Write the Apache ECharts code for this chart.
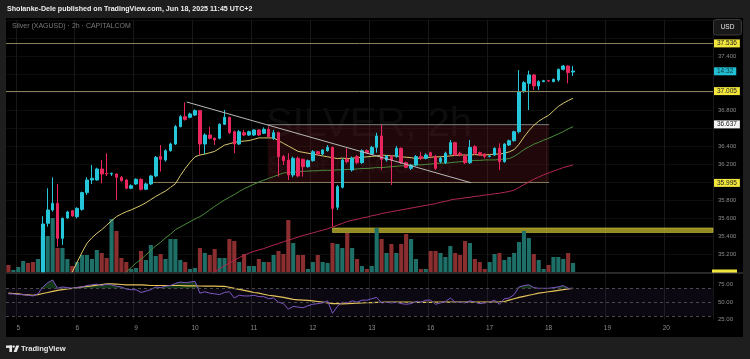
<!DOCTYPE html>
<html><head><meta charset="utf-8">
<script src="https://cdn.jsdelivr.net/npm/echarts@6/dist/echarts.min.js"></script>
<style>html,body{margin:0;padding:0;background:#1e1e1e}#c{width:750px;height:359px}</style>
</head><body><div id="c"></div>
<script>
// ---- x axis: 2h bars, day-start slots and their labels
const totalSlots = 144;
const dayStartIndex = [2, 14, 26, 38, 50, 62, 74, 86, 98, 110, 122, 134];
const dayLabels = ['5', '6', '9', '10', '11', '12', '13', '16', '17', '18', '19', '20'];

// ---- candles [open, close, low, high]
const candles = [
[34.80,34.72,34.68,34.86],[34.72,34.75,34.70,34.79],[34.75,34.78,34.72,34.82],[34.78,34.86,34.76,34.90],
[34.86,34.80,34.77,34.89],[34.80,34.74,34.70,34.83],[34.74,34.90,34.72,34.94],[35.0,35.533,35.0,35.62],
[35.541,35.689,35.504,35.930],[35.689,35.763,35.670,36.052],[35.763,35.374,35.282,35.978],[35.374,35.596,35.300,35.604],
[35.600,35.667,35.590,35.681],[35.681,35.622,35.615,35.689],[35.615,35.707,35.596,35.719],[35.696,35.882,35.681,35.893],
[35.882,36.022,35.856,36.052],[36.022,36.041,35.978,36.189],[36.022,36.144,36.015,36.159],[36.144,36.089,35.985,36.244],
[36.096,36.089,36.067,36.319],[36.089,36.096,36.067,36.105],[36.089,36.052,35.800,36.096],[36.052,36.015,36.004,36.067],
[36.022,35.930,35.919,36.030],[35.930,35.959,35.919,35.974],[35.978,36.030,35.967,36.041],[36.030,35.919,35.904,36.041],
[35.919,35.978,35.911,35.993],[35.978,36.067,35.967,36.078],[36.067,36.274,36.052,36.289],[36.282,36.252,36.115,36.411],
[36.244,36.348,36.226,36.363],[36.348,36.422,36.337,36.437],[36.422,36.615,36.411,36.633],[36.615,36.726,36.607,36.744],
[36.726,36.696,36.682,36.885],[36.719,36.756,36.707,36.770],[36.744,36.793,36.733,36.807],[36.793,36.422,36.300,36.800],
[36.422,36.522,36.311,36.541],[36.522,36.485,36.474,36.615],[36.485,36.467,36.411,36.496],[36.485,36.641,36.474,36.652],
[36.641,36.719,36.633,36.800],[36.719,36.548,36.533,36.726],[36.559,36.422,36.319,36.570],[36.422,36.559,36.411,36.578],
[36.548,36.522,36.511,36.578],[36.522,36.559,36.511,36.570],[36.522,36.578,36.511,36.585],[36.578,36.522,36.511,36.585],
[36.541,36.585,36.533,36.607],[36.585,36.504,36.496,36.615],[36.485,36.548,36.467,36.578],[36.548,36.282,36.060,36.559],
[36.282,36.237,36.189,36.300],[36.244,36.078,36.022,36.319],[36.078,36.263,36.052,36.282],[36.263,36.067,36.052,36.282],
[36.252,36.170,36.060,36.260],[36.170,36.237,36.160,36.250],[36.237,36.337,36.226,36.356],[36.337,36.311,36.300,36.348],
[36.311,36.356,36.300,36.363],[36.348,36.385,36.337,36.411],[36.385,35.707,35.504,36.393],[35.719,35.948,35.689,35.967],
[35.941,36.244,35.930,36.263],[36.252,36.226,36.207,36.374],[36.133,36.263,36.115,36.282],[36.282,36.215,36.200,36.300],
[36.215,36.348,36.200,36.363],[36.348,36.326,36.311,36.363],[36.311,36.385,36.300,36.400],[36.385,36.511,36.326,36.548],
[36.511,36.252,36.133,36.633],[36.244,36.289,36.226,36.300],[36.282,36.244,35.967,36.300],[36.282,36.374,36.270,36.400],
[36.374,36.215,36.200,36.385],[36.215,36.163,36.152,36.226],[36.152,36.189,36.133,36.200],[36.189,36.282,36.178,36.300],
[36.282,36.263,36.244,36.337],[36.263,36.300,36.252,36.319],[36.326,36.289,36.274,36.337],[36.282,36.152,36.133,36.300],
[36.226,36.263,36.207,36.282],[36.215,36.319,36.200,36.337],[36.311,36.437,36.300,36.467],[36.437,36.300,36.289,36.448],
[36.319,36.300,36.282,36.337],[36.289,36.215,36.200,36.311],[36.215,36.385,36.200,36.467],[36.393,36.319,36.300,36.411],
[36.326,36.300,36.289,36.337],[36.311,36.282,36.263,36.319],[36.282,36.289,36.274,36.300],[36.300,36.374,36.289,36.385],
[36.374,36.226,36.133,36.430],[36.226,36.422,36.215,36.430],[36.411,36.459,36.400,36.470],[36.459,36.559,36.450,36.570],
[36.559,37.004,36.540,37.244],[37.004,37.104,36.990,37.120],[37.096,37.189,36.800,37.237],[37.189,37.067,37.022,37.200],
[37.067,37.115,37.022,37.130],[37.115,37.126,37.110,37.135],[37.126,37.122,37.110,37.135],[37.115,37.141,37.110,37.150],
[37.133,37.252,37.115,37.260],[37.252,37.289,37.240,37.300],[37.289,37.215,37.096,37.295],[37.222,37.233,37.178,37.289]
];

// ---- volume (relative units)
const volume = [7,2,5,11,9,10,13,36,36,54,24,24,13,6,10,17,17,13,22,19,14,53,41,14,10,3,4,21,12,27,16,18,13,33,33,12,10,3,4,24,
19,17,23,14,14,33,31,10,18,6,6,13,10,10,17,21,18,52,29,17,17,3,10,17,10,9,29,28,24,39,24,13,6,3,6,44,33,19,28,19,
28,38,33,13,3,3,21,21,19,15,26,19,17,31,29,13,10,3,10,18,19,12,15,19,30,41,34,18,12,3,7,15,15,13,19,9];

// ---- moving averages on price
const maFast = [null,null,null,null,null,null,null,null,null,null,null,null,34.93,35.0,35.11,35.22,35.32,35.38,35.43,35.47,
35.52,35.57,35.615,35.645,35.67,35.69,35.715,35.74,35.77,35.805,35.84,35.87,35.90,35.94,35.98,36.07,36.15,36.22,36.28,36.30,
36.31,36.325,36.34,36.375,36.41,36.425,36.44,36.45,36.455,36.46,36.475,36.49,36.49,36.49,36.49,36.46,36.43,36.40,36.37,36.34,
36.33,36.32,36.31,36.30,36.29,36.28,36.27,36.26,36.265,36.26,36.265,36.27,36.275,36.28,36.285,36.29,36.30,36.295,36.29,36.29,
36.28,36.275,36.27,36.26,36.265,36.27,36.275,36.28,36.28,36.285,36.29,36.295,36.30,36.30,36.30,36.305,36.30,36.30,36.305,36.31,
36.31,36.32,36.335,36.36,36.42,36.50,36.57,36.63,36.675,36.71,36.74,36.79,36.84,36.875,36.905,36.93];
const maMid = [null,null,null,null,null,null,null,null,null,null,null,null,null,null,null,null,null,null,null,null,
null,null,null,34.95,35.0,35.05,35.10,35.14,35.19,35.24,35.29,35.33,35.38,35.42,35.47,35.50,35.53,35.56,35.59,35.615,
35.65,35.69,35.73,35.765,35.80,35.83,35.86,35.895,35.925,35.95,35.975,36.0,36.02,36.04,36.06,36.08,36.10,36.105,36.11,36.115,
36.12,36.12,36.125,36.125,36.13,36.13,36.13,36.135,36.135,36.14,36.14,36.145,36.15,36.15,36.155,36.16,36.16,36.165,36.17,36.175,
36.18,36.18,36.185,36.19,36.19,36.195,36.20,36.205,36.21,36.21,36.215,36.22,36.225,36.23,36.235,36.24,36.24,36.245,36.245,36.245,
36.25,36.255,36.26,36.285,36.32,36.36,36.39,36.42,36.44,36.465,36.485,36.51,36.535,36.56,36.59,36.615];
const maSlow = [null,null,null,null,null,null,null,null,null,null,null,null,null,null,null,null,null,null,null,null,
null,null,null,null,null,null,null,null,null,null,null,null,null,null,null,null,null,null,null,null,
null,34.97,35.0,35.035,35.07,35.10,35.13,35.16,35.185,35.21,35.23,35.245,35.26,35.28,35.30,35.315,35.335,35.355,35.37,35.39,
35.405,35.42,35.435,35.45,35.465,35.48,35.50,35.52,35.54,35.56,35.575,35.585,35.60,35.61,35.625,35.635,35.65,35.66,35.67,35.68,
35.69,35.70,35.71,35.72,35.73,35.74,35.75,35.76,35.775,35.785,35.80,35.81,35.815,35.825,35.83,35.84,35.845,35.855,35.86,35.87,
35.875,35.885,35.895,35.91,35.94,35.97,36.0,36.03,36.055,36.08,36.10,36.12,36.14,36.16,36.175,36.19];

// ---- RSI pane
const rsi = [62,62,61,61,60,59,62,72,78,82,70,72,71,70,71,72,74,75,76,74,76,75,73,72,69,68,68,64,66,68,
72,71,73,74,77,79,78,79,80,63,65,63,62,61,64,65,56,60,59,59,60,58,58,55,56,50,48,40,44,43,
42,45,47,48,49,52,34,44,50,49,52,50,53,53,55,57,49,50,49,50,48,47,48,51,50,53,53,47,49,51,
56,50,50,49,52,50,48,49,50,53,47,55,56,61,72,74,75,71,70,70,70,71,72,74,70,70];
const rsiMa = [63,62.5,62,61,60.5,60,61,62.5,64,65.5,67,68,69,70,71,72,72.7,73.5,74.5,75.5,76.5,76.5,76,75.5,75,75,75,75,74.5,74,
74,74,74,74,74,74,73.6,73.5,73.5,73.3,73,73,73,72.8,72.7,71.5,70,68.5,67,65.5,64,63,61.5,60,59,58,57,55.5,54,53.5,
53,52.5,52,51,50,49,48,48,47.6,48,48.3,48.6,49,49.2,49.5,49.7,49.8,50,50,50.2,50.3,50.2,50,49.9,49.8,49.8,49.9,50,50,50.1,
50.2,50.3,50.3,50.2,50.2,50.1,50,50,50.1,50.3,50.5,51,53,55,57,58.5,60,61.5,63,64,65,66,67,68,69,70];
const rsiBands = [30, 50, 70];

// ---- price levels & drawings (bar-index, price)
const levelHigh = 37.536, levelBreak = 37.005, levelBoxTop = 36.637, levelBoxBottom = 35.995;
const lastPrice = 37.233, lastPriceLabel = '14:32';
const boxRange = [52.8, 110.1];
const baseLineRange = [29.2, 110.1];
const trendLine = [[36.3, 36.889], [94.2, 35.992]];
const supportZone = {from: 66.0, to: 143.5, low: 35.439, high: 35.489};
const priceTicksHidden = [36.0, 36.6, 37.0, 37.2, 37.6];

const UP = '#26c6da', DOWN = '#e9265d', VUP = '#1d6f67', VDOWN = '#8a2e30';
const dayIdx = new Set(dayStartIndex);
const dayMap = {}; dayStartIndex.forEach((d, k) => dayMap[d] = dayLabels[k]);
const cats = Array.from({length: totalSlots}, (_, i) => 'b' + i);
const AX = '#8c8c8c';
const FONT = 'Liberation Sans, Arial, sans-serif';

const chart = echarts.init(document.getElementById('c'), null, {renderer: 'canvas'});
const lvlLabel = (txt, bg, fg) => ({show: true, position: 'end', formatter: txt, backgroundColor: bg, color: fg,
  fontSize: 6.5, fontFamily: FONT, padding: [1, 3, 0, 3], lineHeight: 7, distance: 1});

const option = {
  backgroundColor: '#000',
  animation: false,
  grid: [
    {left: 6, right: 37, top: 20, height: 252},
    {left: 6, right: 37, top: 273, height: 46.6}
  ],
  xAxis: [
    {type: 'category', gridIndex: 0, data: cats, axisLine: {show: false}, axisTick: {show: false}, axisLabel: {show: false},
     splitLine: {show: true, interval: (i) => dayIdx.has(i), lineStyle: {color: '#181818', width: 1}}},
    {type: 'value', gridIndex: 0, min: -0.5, max: totalSlots - 0.5, show: false},
    {type: 'category', gridIndex: 1, data: cats, axisLine: {show: false}, axisTick: {show: false},
     axisLabel: {interval: (i) => dayIdx.has(i), formatter: (v, i) => dayMap[i] || '', color: AX, fontSize: 6.5, fontFamily: FONT, margin: 5},
     splitLine: {show: true, interval: (i) => dayIdx.has(i), lineStyle: {color: '#181818', width: 1}}}
  ],
  yAxis: [
    {type: 'value', gridIndex: 0, position: 'right', min: 35, max: 37.8, interval: 0.2, scale: true,
     axisLine: {show: false}, axisTick: {show: false},
     axisLabel: {color: AX, fontSize: 6, fontFamily: FONT, margin: 5, showMinLabel: false, showMaxLabel: false,
       formatter: (v) => priceTicksHidden.some(h => Math.abs(h - v) < 1e-6) ? '' : v.toFixed(3)},
     splitLine: {show: true, lineStyle: {color: '#0d0d0d'}}},
    {type: 'value', gridIndex: 0, min: 0, max: 252, show: false},
    {type: 'value', gridIndex: 1, position: 'right', min: 25, max: 92, interval: 25,
     axisLine: {show: false}, axisTick: {show: false}, splitLine: {show: false},
     axisLabel: {color: AX, fontSize: 6, fontFamily: FONT, margin: 5, showMaxLabel: false, formatter: (v) => v.toFixed(2)}}
  ],
  series: [
    {type: 'bar', name: 'volume', xAxisIndex: 0, yAxisIndex: 1, barWidth: '84%', z: 1,
     data: volume.map((v, i) => ({value: v, itemStyle: {color: candles[i][1] >= candles[i][0] ? VUP : VDOWN}}))},
    {type: 'line', name: 'box', xAxisIndex: 1, yAxisIndex: 0, symbol: 'none', z: 1,
     data: [[boxRange[0], levelBoxTop], [boxRange[1], levelBoxTop]], lineStyle: {color: '#7d7d7d', width: 1},
     markArea: {silent: true, data: [
       [{coord: [boxRange[0], levelBoxTop], itemStyle: {color: 'rgba(125,28,40,0.25)'}}, {coord: [boxRange[1], levelBoxBottom]}],
       [{coord: [supportZone.from, supportZone.high], itemStyle: {color: 'rgba(190,180,45,0.78)', borderColor: '#cfc443', borderWidth: 0.6}},
        {coord: [supportZone.to, supportZone.low]}]
     ]}},
    {type: 'line', name: 'base', xAxisIndex: 1, yAxisIndex: 0, symbol: 'none', z: 1,
     data: [[baseLineRange[0], levelBoxBottom], [baseLineRange[1], levelBoxBottom]], lineStyle: {color: '#8b7f5a', width: 1}},
    {type: 'line', name: 'maSlow', xAxisIndex: 0, yAxisIndex: 0, data: maSlow, symbol: 'none', z: 3,
     lineStyle: {color: '#b2284f', width: 1}},
    {type: 'line', name: 'maMid', xAxisIndex: 0, yAxisIndex: 0, data: maMid, symbol: 'none', z: 3,
     lineStyle: {color: '#4b8c3c', width: 1}},
    {type: 'line', name: 'maFast', xAxisIndex: 0, yAxisIndex: 0, data: maFast, symbol: 'none', z: 3,
     lineStyle: {color: '#d9c86c', width: 1}},
    {type: 'candlestick', name: 'price', xAxisIndex: 0, yAxisIndex: 0, data: candles, barWidth: '62%', clip: true, z: 4,
     itemStyle: {color: UP, color0: DOWN, borderColor: UP, borderColor0: DOWN, borderWidth: 1}},
    {type: 'line', name: 'trend', xAxisIndex: 1, yAxisIndex: 0, data: trendLine, symbol: 'none', z: 5,
     lineStyle: {color: '#b8b8b8', width: 1},
     markLine: {silent: true, symbol: 'none', data: [
       {yAxis: levelHigh, lineStyle: {color: '#8b7f5a', width: 1, type: 'solid'}, label: lvlLabel(levelHigh.toFixed(3), '#f2e53c', '#222')},
       {yAxis: levelBreak, lineStyle: {color: '#8b7f5a', width: 1, type: 'solid'}, label: lvlLabel(levelBreak.toFixed(3), '#f2e53c', '#222')},
       {yAxis: levelBoxTop, lineStyle: {color: 'rgba(0,0,0,0)', width: 0}, label: lvlLabel(levelBoxTop.toFixed(3), '#f4f4f4', '#222')},
       {yAxis: levelBoxBottom, lineStyle: {color: 'rgba(0,0,0,0)', width: 0}, label: lvlLabel(levelBoxBottom.toFixed(3), '#f2e53c', '#222')},
       {yAxis: lastPrice, lineStyle: {color: 'rgba(0,0,0,0)', width: 0}, label: lvlLabel(lastPriceLabel, '#22bfd3', '#10323a')}
     ]}},
    // RSI pane
    {type: 'line', name: 'rsiFill', xAxisIndex: 2, yAxisIndex: 2, symbol: 'none', z: 2,
     data: rsi.map(v => Math.max(v, 70)), lineStyle: {width: 0},
     areaStyle: {origin: 70, color: 'rgba(60,170,80,0.45)'}},
    {type: 'line', name: 'rsiMa', xAxisIndex: 2, yAxisIndex: 2, data: rsiMa, symbol: 'none', z: 3,
     lineStyle: {color: '#e6c45a', width: 1.2}},
    {type: 'line', name: 'rsi', xAxisIndex: 2, yAxisIndex: 2, data: rsi, symbol: 'none', z: 4,
     lineStyle: {color: '#7e57c2', width: 1},
     markArea: {silent: true, data: [[{yAxis: rsiBands[0], itemStyle: {color: 'rgba(126,87,194,0.09)'}}, {yAxis: rsiBands[2]}]]},
     markLine: {silent: true, symbol: 'none', label: {show: false},
       data: rsiBands.map(b => ({yAxis: b, lineStyle: {color: '#4a4a4a', type: [3, 3], width: 1}}))}}
  ],
  graphic: [
    {type: 'rect', shape: {x: 0, y: 0, width: 750, height: 18}, style: {fill: '#1e1e1e'}, z: 100},
    {type: 'rect', shape: {x: 0, y: 337, width: 750, height: 22}, style: {fill: '#1e1e1e'}, z: 100},
    {type: 'rect', shape: {x: 0, y: 18, width: 6, height: 319}, style: {fill: '#1e1e1e'}, z: 100},
    {type: 'rect', shape: {x: 743, y: 18, width: 7, height: 319}, style: {fill: '#1e1e1e'}, z: 100},
    {type: 'text', z: 101, style: {text: 'Sholanke-Dele published on TradingView.com, Jun 18, 2025 11:45 UTC+2', x: 7, y: 9.5,
      fill: '#f0f0f0', fontSize: 7.1, fontWeight: 'bold', fontFamily: FONT, verticalAlign: 'middle', align: 'left'}},
    {type: 'text', z: 101, style: {text: 'Silver (XAGUSD) · 2h · CAPITALCOM', x: 12, y: 26.5,
      fill: '#7a7a7a', fontSize: 7, fontFamily: FONT, verticalAlign: 'middle', align: 'left'}},
    {type: 'text', z: 0, style: {text: 'SILVER, 2h', x: 369, y: 125, fill: 'rgba(255,255,255,0.05)',
      fontSize: 40, fontFamily: FONT, verticalAlign: 'middle', align: 'center'}},
    {type: 'text', z: 0, style: {text: 'Silver (XAGUSD)', x: 360, y: 166, fill: 'rgba(255,255,255,0.04)',
      fontSize: 24, fontFamily: FONT, verticalAlign: 'middle', align: 'center'}},
    {type: 'rect', z: 101, shape: {x: 713.5, y: 19.5, width: 28, height: 15.5, r: 2.5}, style: {fill: '#181818', stroke: '#3a3a3a', lineWidth: 1}},
    {type: 'text', z: 102, style: {text: 'USD', x: 727.5, y: 27.5, fill: '#e6e6e6', fontSize: 6.5, fontFamily: FONT, verticalAlign: 'middle', align: 'center'}},
    {type: 'rect', z: 90, shape: {x: 712, y: 269.5, width: 25, height: 3.5}, style: {fill: '#f2e53c'}},
    {type: 'rect', z: 91, shape: {x: 6, y: 272.6, width: 737, height: 1}, style: {fill: '#4a4a4a'}},
    // footer TradingView mark
    {type: 'rect', z: 101, shape: {x: 6, y: 345.5, width: 6, height: 2.4}, style: {fill: '#e8e8e8'}},
    {type: 'rect', z: 101, shape: {x: 9.4, y: 345.5, width: 2.6, height: 6.5}, style: {fill: '#e8e8e8'}},
    {type: 'circle', z: 101, shape: {cx: 13.6, cy: 346.6, r: 1.2}, style: {fill: '#e8e8e8'}},
    {type: 'polygon', z: 101, shape: {points: [[16.2, 345.5], [19.3, 345.5], [16.6, 352], [13.6, 352]]}, style: {fill: '#e8e8e8'}},
    {type: 'text', z: 101, style: {text: 'TradingView', x: 21, y: 348.6, fill: '#e6e6e6', fontSize: 7.6, fontWeight: 'bold',
      fontFamily: FONT, verticalAlign: 'middle', align: 'left'}}
  ]
};
chart.setOption(option);
</script>
</body></html>
